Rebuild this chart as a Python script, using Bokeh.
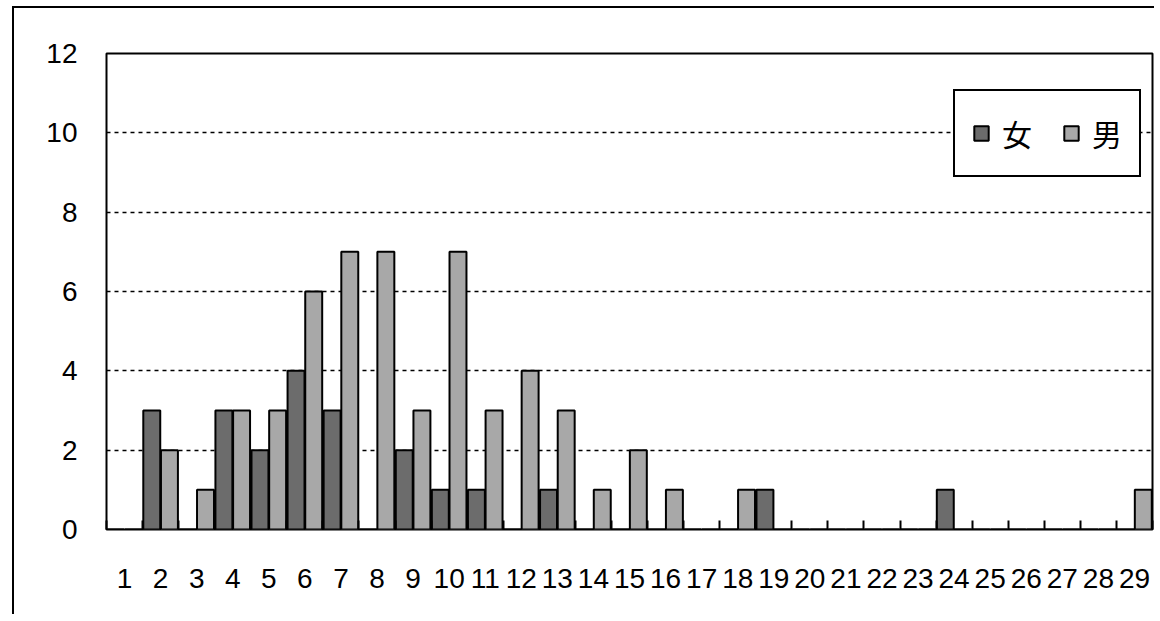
from bokeh.plotting import figure
from bokeh.models import ColumnDataSource, Legend, LegendItem, FixedTicker, Range1d
from bokeh.transform import dodge
from bokeh.embed import file_html
from bokeh.resources import INLINE

categories = [str(i) for i in range(1, 30)]
female = [0, 3, 0, 3, 2, 4, 3, 0, 2, 1, 1, 0, 1, 0, 0, 0, 0, 0, 1, 0, 0, 0, 0, 1, 0, 0, 0, 0, 0]
male = [0, 2, 1, 3, 3, 6, 7, 7, 3, 7, 3, 4, 3, 1, 2, 1, 0, 1, 0, 0, 0, 0, 0, 0, 0, 0, 0, 0, 1]
y_ticks = [0, 2, 4, 6, 8, 10, 12]

xs = list(range(1, len(categories) + 1))
src = ColumnDataSource(dict(x=xs, female=female, male=male))

p = figure(width=1142, height=608, output_backend="svg", toolbar_location=None,
           x_range=Range1d(0.5, len(categories) + 0.5), y_range=Range1d(0, 12),
           min_border_left=92, min_border_top=45, min_border_bottom=87, min_border_right=4)
p.margin = (6, 0, 0, 12)
p.styles = {"border-left": "2px solid black", "border-top": "2px solid black"}

p.outline_line_color = "black"
p.outline_line_width = 2
p.background_fill_color = "white"
p.border_fill_color = "white"

rf = p.vbar(x=dodge("x", -0.245, range=p.x_range), top="female", width=0.47, source=src,
            fill_color="#6c6c6c", line_color="black", line_width=2)
rm = p.vbar(x=dodge("x", 0.245, range=p.x_range), top="male", width=0.47, source=src,
            fill_color="#a8a8a8", line_color="black", line_width=2)

# axes
p.xaxis.ticker = FixedTicker(ticks=xs, minor_ticks=[i + 0.5 for i in range(0, len(categories) + 1)])
p.xaxis.major_label_overrides = {i: c for i, c in zip(xs, categories)}
p.xaxis.major_tick_line_color = None
p.xaxis.minor_tick_in = 9
p.xaxis.minor_tick_out = 0
p.xaxis.minor_tick_line_color = "black"
p.xaxis.minor_tick_line_width = 2
p.xaxis.axis_line_color = None
p.xaxis.major_label_standoff = 33
p.xaxis.major_label_text_font = "Liberation Sans"
p.xaxis.major_label_text_font_size = "28px"
p.xaxis.major_label_text_color = "black"

p.yaxis.ticker = FixedTicker(ticks=y_ticks)
p.yaxis.major_tick_line_color = None
p.yaxis.minor_tick_line_color = None
p.yaxis.axis_line_color = None
p.yaxis.major_label_standoff = 23
p.yaxis.major_label_text_font = "Liberation Sans"
p.yaxis.major_label_text_font_size = "28px"
p.yaxis.major_label_text_color = "black"

p.xgrid.grid_line_color = None
p.ygrid.grid_line_color = "black"
p.ygrid.grid_line_dash = "4 4"
p.ygrid.grid_line_width = 1.5

legend = Legend(items=[LegendItem(label="女", renderers=[rf]), LegendItem(label="男", renderers=[rm])],
                orientation="horizontal", location=(847, 352))
legend.label_text_font = "Noto Sans CJK JP"
legend.label_text_font_size = "30px"
legend.label_text_color = "black"
legend.label_height = 50
legend.glyph_width = 18
legend.glyph_height = 18
legend.spacing = 30
legend.padding = 17
legend.label_standoff = 12
legend.border_line_color = "black"
legend.border_line_alpha = 1
legend.border_line_width = 2
legend.background_fill_color = "white"
legend.background_fill_alpha = 1
legend.margin = 0
p.add_layout(legend, "center")

open("out.html", "w").write(file_html(p, INLINE))
